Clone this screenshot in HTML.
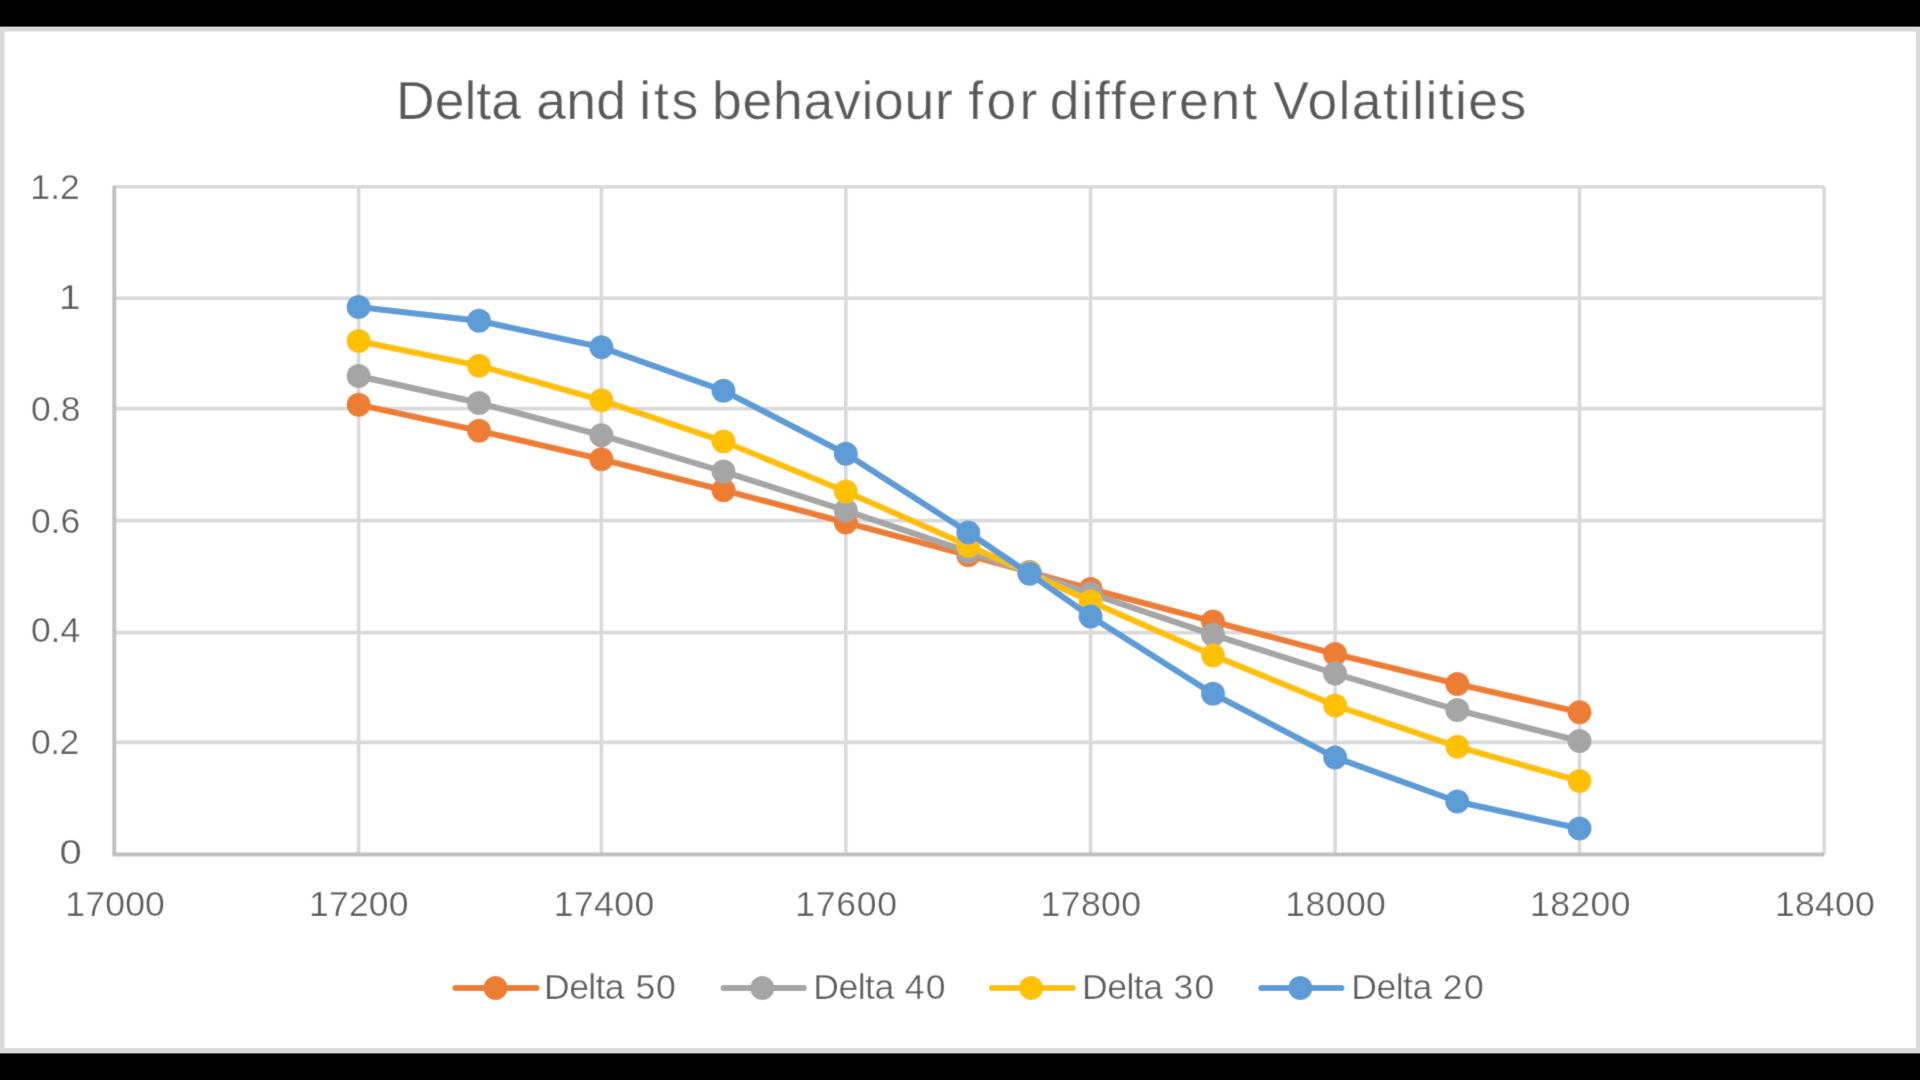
<!DOCTYPE html>
<html><head><meta charset="utf-8"><style>
html,body{margin:0;padding:0;background:#000;width:1920px;height:1080px;overflow:hidden}
svg{display:block}
text{font-family:"Liberation Sans",sans-serif;fill:#595959;stroke:#fff;stroke-width:0.25px}
</style></head><body>
<svg width="1920" height="1080" viewBox="0 0 1920 1080">
<defs><filter id="bl" x="0" y="0" width="1920" height="1080" filterUnits="userSpaceOnUse"><feConvolveMatrix order="3" kernelMatrix="0.0144 0.0912 0.0144 0.0912 0.5776 0.0912 0.0144 0.0912 0.0144" preserveAlpha="true" edgeMode="duplicate"/></filter></defs><g filter="url(#bl)"><rect x="0" y="0" width="1920" height="1080" fill="#000"/>
<rect x="0" y="27" width="1920" height="1026" fill="#D9D9D9"/>
<rect x="0" y="27" width="1920" height="1" fill="#E8E8E8"/>
<rect x="0" y="1052" width="1920" height="1" fill="#E8E8E8"/>
<rect x="4.5" y="31.5" width="1911.5" height="1016.5" fill="#FFFFFF"/>
<g style="stroke-width:0.55px"><text x="396.00" y="118.9" font-size="53.5" letter-spacing="0.000">Delta</text><text x="536.30" y="118.9" font-size="53.5" letter-spacing="0.200">and</text><text x="639.30" y="118.9" font-size="53.5" letter-spacing="2.750">its</text><text x="712.00" y="118.9" font-size="53.5" letter-spacing="0.725">behaviour</text><text x="968.20" y="118.9" font-size="53.5" letter-spacing="3.400">for</text><text x="1049.70" y="118.9" font-size="53.5" letter-spacing="1.887">different</text><text x="1273.30" y="118.9" font-size="53.5" letter-spacing="1.364">Volatilities</text></g>
<g stroke="#D9D9D9" stroke-width="3.6"><line x1="114.3" y1="742.4" x2="1824.2" y2="742.4"/><line x1="114.3" y1="632.6" x2="1824.2" y2="632.6"/><line x1="114.3" y1="520.6" x2="1824.2" y2="520.6"/><line x1="114.3" y1="408.6" x2="1824.2" y2="408.6"/><line x1="114.3" y1="298.3" x2="1824.2" y2="298.3"/><line x1="114.3" y1="186.8" x2="1824.2" y2="186.8"/><line x1="358.6" y1="186.8" x2="358.6" y2="854.6"/><line x1="601.4" y1="186.8" x2="601.4" y2="854.6"/><line x1="845.8" y1="186.8" x2="845.8" y2="854.6"/><line x1="1090.6" y1="186.8" x2="1090.6" y2="854.6"/><line x1="1335.1" y1="186.8" x2="1335.1" y2="854.6"/><line x1="1579.5" y1="186.8" x2="1579.5" y2="854.6"/><line x1="1824.2" y1="186.8" x2="1824.2" y2="854.6"/></g>
<g stroke="#BFBFBF" stroke-width="4"><line x1="114.3" y1="185.8" x2="114.3" y2="854.6"/><line x1="112.3" y1="854.6" x2="1824.2" y2="854.6"/></g>
<g font-size="35.5"><text x="59.48" y="864.4" font-size="35.5" textLength="22.22" lengthAdjust="spacingAndGlyphs">0</text><text x="30.90" y="754.4" font-size="35.5" letter-spacing="-0.450">0.2</text><text x="30.90" y="642.3" font-size="35.5" letter-spacing="-0.050">0.4</text><text x="30.90" y="533.0" font-size="35.5" letter-spacing="-0.050">0.6</text><text x="30.90" y="420.8" font-size="35.5" letter-spacing="0.100">0.8</text><text x="58.92" y="308.6" font-size="35.5" textLength="21.58" lengthAdjust="spacingAndGlyphs">1</text><text x="30.30" y="198.8" font-size="35.5" letter-spacing="0.100">1.2</text><text x="65.30" y="915.8" font-size="35.5" letter-spacing="0.200">17000</text><text x="309.10" y="915.8" font-size="35.5" letter-spacing="0.175">17200</text><text x="553.70" y="915.8" font-size="35.5" letter-spacing="0.450">17400</text><text x="795.30" y="915.8" font-size="35.5" letter-spacing="0.725">17600</text><text x="1040.50" y="915.8" font-size="35.5" letter-spacing="0.450">17800</text><text x="1285.30" y="915.8" font-size="35.5" letter-spacing="0.450">18000</text><text x="1529.90" y="915.8" font-size="35.5" letter-spacing="0.500">18200</text><text x="1774.90" y="915.8" font-size="35.5" letter-spacing="0.300">18400</text></g>
<polyline points="358.6,404.7 479.0,430.8 601.4,459.2 723.5,490.2 845.8,522.4 968.3,555.2 1029.5,572.0 1090.6,589.0 1213.0,621.5 1335.1,654.0 1457.3,683.9 1579.5,712.2" fill="none" stroke="#ED7D31" stroke-width="6.2" stroke-linejoin="round" stroke-linecap="round"/><g fill="#ED7D31"><circle cx="358.6" cy="404.7" r="12.0"/><circle cx="479.0" cy="430.8" r="12.0"/><circle cx="601.4" cy="459.2" r="12.0"/><circle cx="723.5" cy="490.2" r="12.0"/><circle cx="845.8" cy="522.4" r="12.0"/><circle cx="968.3" cy="555.2" r="12.0"/><circle cx="1029.5" cy="572.0" r="12.0"/><circle cx="1090.6" cy="589.0" r="12.0"/><circle cx="1213.0" cy="621.5" r="12.0"/><circle cx="1335.1" cy="654.0" r="12.0"/><circle cx="1457.3" cy="683.9" r="12.0"/><circle cx="1579.5" cy="712.2" r="12.0"/></g><polyline points="358.6,376.1 479.0,402.9 601.4,435.2 723.5,471.6 845.8,510.6 968.3,551.8 1029.5,572.3 1090.6,593.6 1213.0,634.7 1335.1,673.6 1457.3,710.1 1579.5,741.0" fill="none" stroke="#A5A5A5" stroke-width="6.2" stroke-linejoin="round" stroke-linecap="round"/><g fill="#A5A5A5"><circle cx="358.6" cy="376.1" r="12.0"/><circle cx="479.0" cy="402.9" r="12.0"/><circle cx="601.4" cy="435.2" r="12.0"/><circle cx="723.5" cy="471.6" r="12.0"/><circle cx="845.8" cy="510.6" r="12.0"/><circle cx="968.3" cy="551.8" r="12.0"/><circle cx="1029.5" cy="572.3" r="12.0"/><circle cx="1090.6" cy="593.6" r="12.0"/><circle cx="1213.0" cy="634.7" r="12.0"/><circle cx="1335.1" cy="673.6" r="12.0"/><circle cx="1457.3" cy="710.1" r="12.0"/><circle cx="1579.5" cy="741.0" r="12.0"/></g><polyline points="358.6,341.1 479.0,365.7 601.4,400.2 723.5,441.5 845.8,491.6 968.3,545.6 1029.5,572.9 1090.6,601.6 1213.0,655.4 1335.1,705.4 1457.3,746.8 1579.5,781.0" fill="none" stroke="#FFC000" stroke-width="6.2" stroke-linejoin="round" stroke-linecap="round"/><g fill="#FFC000"><circle cx="358.6" cy="341.1" r="12.0"/><circle cx="479.0" cy="365.7" r="12.0"/><circle cx="601.4" cy="400.2" r="12.0"/><circle cx="723.5" cy="441.5" r="12.0"/><circle cx="845.8" cy="491.6" r="12.0"/><circle cx="968.3" cy="545.6" r="12.0"/><circle cx="1029.5" cy="572.9" r="12.0"/><circle cx="1090.6" cy="601.6" r="12.0"/><circle cx="1213.0" cy="655.4" r="12.0"/><circle cx="1335.1" cy="705.4" r="12.0"/><circle cx="1457.3" cy="746.8" r="12.0"/><circle cx="1579.5" cy="781.0" r="12.0"/></g><polyline points="358.6,307.0 479.0,320.8 601.4,347.3 723.5,390.7 845.8,453.7 968.3,532.4 1029.5,573.8 1090.6,616.4 1213.0,693.8 1335.1,757.4 1457.3,801.6 1579.5,828.5" fill="none" stroke="#5B9BD5" stroke-width="6.2" stroke-linejoin="round" stroke-linecap="round"/><g fill="#5B9BD5"><circle cx="358.6" cy="307.0" r="12.0"/><circle cx="479.0" cy="320.8" r="12.0"/><circle cx="601.4" cy="347.3" r="12.0"/><circle cx="723.5" cy="390.7" r="12.0"/><circle cx="845.8" cy="453.7" r="12.0"/><circle cx="968.3" cy="532.4" r="12.0"/><circle cx="1029.5" cy="573.8" r="12.0"/><circle cx="1090.6" cy="616.4" r="12.0"/><circle cx="1213.0" cy="693.8" r="12.0"/><circle cx="1335.1" cy="757.4" r="12.0"/><circle cx="1457.3" cy="801.6" r="12.0"/><circle cx="1579.5" cy="828.5" r="12.0"/></g>
<line x1="455.5" y1="988" x2="536.4" y2="988" stroke="#ED7D31" stroke-width="6.2" stroke-linecap="round"/><circle cx="495.5" cy="988" r="12.0" fill="#ED7D31"/><line x1="723.6" y1="988" x2="803.7" y2="988" stroke="#A5A5A5" stroke-width="6.2" stroke-linecap="round"/><circle cx="762.3" cy="988" r="12.0" fill="#A5A5A5"/><line x1="992.0" y1="988" x2="1072.6" y2="988" stroke="#FFC000" stroke-width="6.2" stroke-linecap="round"/><circle cx="1031.1" cy="988" r="12.0" fill="#FFC000"/><line x1="1261.4" y1="988" x2="1341.4" y2="988" stroke="#5B9BD5" stroke-width="6.2" stroke-linecap="round"/><circle cx="1300.3" cy="988" r="12.0" fill="#5B9BD5"/>
<text x="544.10" y="999.4" font-size="35.5" letter-spacing="-0.588">Delta</text><text x="635.50" y="999.4" font-size="35.5" letter-spacing="0.800">50</text><text x="813.25" y="999.4" font-size="35.5" letter-spacing="-0.488">Delta</text><text x="904.80" y="999.4" font-size="35.5" letter-spacing="1.100">40</text><text x="1082.00" y="999.4" font-size="35.5" letter-spacing="-0.475">Delta</text><text x="1173.40" y="999.4" font-size="35.5" letter-spacing="1.300">30</text><text x="1351.25" y="999.4" font-size="35.5" letter-spacing="-0.488">Delta</text><text x="1442.70" y="999.4" font-size="35.5" letter-spacing="1.600">20</text>
</g></svg>
</body></html>
